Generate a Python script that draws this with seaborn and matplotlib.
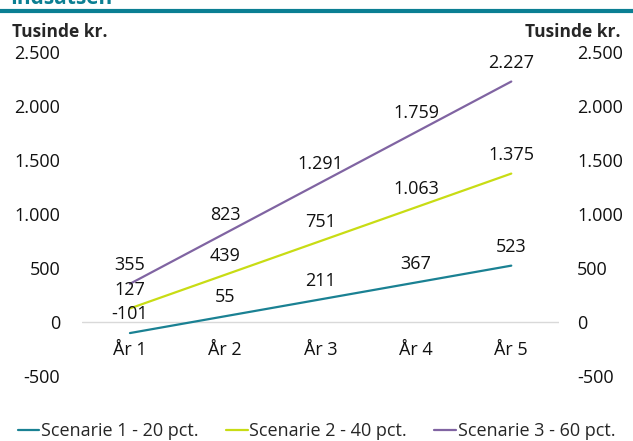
import pandas as pd
import matplotlib
matplotlib.use("Agg")
import matplotlib.pyplot as plt
import seaborn as sns
from matplotlib.lines import Line2D

# data (tusinde kr.)
years = ["År 1", "År 2", "År 3", "År 4", "År 5"]
scenarie_1 = [-101, 55, 211, 367, 523]
scenarie_2 = [127, 439, 751, 1063, 1375]
scenarie_3 = [355, 823, 1291, 1759, 2227]
series_names = ["Scenarie 1 - 20 pct.", "Scenarie 2 - 40 pct.", "Scenarie 3 - 60 pct."]
y_ticks = [-500, 0, 500, 1000, 1500, 2000, 2500]

colors = ["#1a8193", "#c8dc14", "#8064a2"]


def fmt(v):
    # danish thousand separator
    return f"{v:,}".replace(",", ".")


def make_chart():
    rows = []
    for name, vals in zip(series_names, [scenarie_1, scenarie_2, scenarie_3]):
        for i, v in enumerate(vals):
            rows.append({"pos": i, "year": years[i], "value": v, "scenario": name})
    df = pd.DataFrame(rows)

    sns.set_theme(style="white")
    plt.rcParams["font.family"] = ["Open Sans", "DejaVu Sans"]

    fig = plt.figure(figsize=(6.33, 4.41), dpi=100)
    ax = fig.add_axes([0.130, 0.147, 0.753, 0.735])

    sns.lineplot(data=df, x="pos", y="value", hue="scenario", palette=colors,
                 linewidth=1.6, legend=False, ax=ax)

    # value labels above each point
    for _, r in df.iterrows():
        ax.annotate(fmt(r["value"]), (r["pos"], r["value"]), xytext=(0, 7),
                    textcoords="offset points", ha="center", va="bottom",
                    fontsize=13, color="#111111")

    ax.set_xlim(-0.5, 4.5)
    ax.set_ylim(-500, 2500)
    ax.set_yticks(y_ticks)
    ax.set_yticklabels([fmt(t) for t in y_ticks])
    ax.set_xticks([])
    ax.set_xlabel("")
    ax.set_ylabel("")
    for s in ax.spines.values():
        s.set_visible(False)
    ax.axhline(0, color="#d9d9d9", linewidth=1, zorder=0)

    # pad is in points (22 px / 18 px at 100 dpi)
    ax.tick_params(axis="y", length=0, pad=16, labelsize=13, colors="#111111")

    # year labels sit just under the zero line, inside the plot area
    y_lbl = ax.transData.inverted().transform(
        ax.transData.transform((0, 0)) + (0, -28))[1]
    for i, yr in enumerate(years):
        ax.text(i, y_lbl, yr, ha="center", va="center", fontsize=13, color="#111111")

    ax2 = ax.twinx()
    ax2.set_ylim(ax.get_ylim())
    ax2.set_yticks(y_ticks)
    ax2.set_yticklabels([fmt(t) for t in y_ticks])
    ax2.tick_params(axis="y", length=0, pad=13, labelsize=13, colors="#111111")
    for s in ax2.spines.values():
        s.set_visible(False)

    fig.text(0.019, 0.927, "Tusinde kr.", fontsize=12.5, fontweight="bold", ha="left", va="center")
    fig.text(0.980, 0.927, "Tusinde kr.", fontsize=12.5, fontweight="bold", ha="right", va="center")

    # heading, cut off at the top edge as in the source, and its rule
    fig.text(0.016, 1 - 4 / 441, "Indsatsen", fontsize=15, fontweight="bold",
             color="#0b7f93", ha="left", va="baseline")
    fig.add_artist(Line2D([0, 1], [1 - 11 / 441, 1 - 11 / 441], transform=fig.transFigure,
                          color="#0b7f93", linewidth=3))

    handles = [Line2D([0], [0], color=c, linewidth=1.6) for c in colors]
    fig.legend(handles, series_names, loc="center", bbox_to_anchor=(0.5, 1 - 431 / 441),
               ncol=3, frameon=False, fontsize=13, handlelength=1.2, handletextpad=0.1,
               columnspacing=1.5)

    fig.savefig("out.png", dpi=100)


if __name__ == "__main__":
    make_chart()
